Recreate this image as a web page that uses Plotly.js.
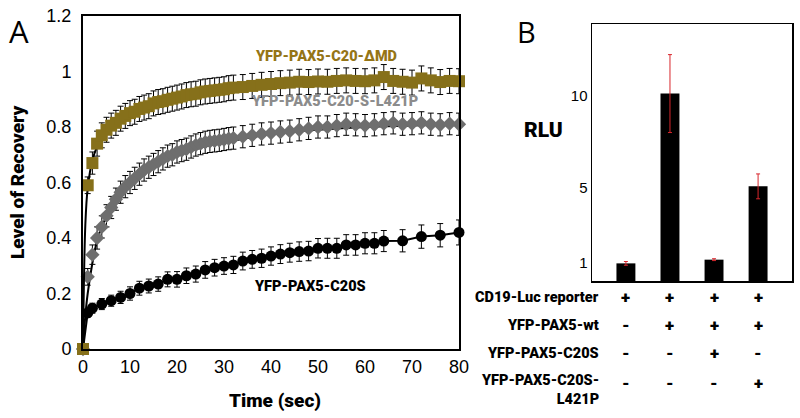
<!DOCTYPE html>
<html>
<head>
<meta charset="utf-8">
<script src="https://cdn.plot.ly/plotly-3.0.1.min.js"></script>
<style>html,body{margin:0;padding:0;background:#fff;}#chart{width:800px;height:418px;}</style>
</head>
<body>
<div id="chart"></div>
<script>
// ---------- Panel A data (FRAP recovery) ----------
const tFine = [0,1,2,3,4,5,6,7,8,9,10,11,12,13,14,15,16,17,18,19,20,21,22,23,24,25,26,27,28,29,30,31,32,
               34,36,38,40,42,44,46,48,50,52,54,56,58,60,62,64,66,68,70,72,74,76,78,80];
const dmdValues = [0,0.59,0.67,0.74,0.77,0.79,0.805,0.815,0.83,0.84,0.85,0.855,0.865,0.87,0.875,0.885,0.89,0.893,0.898,0.902,0.906,0.91,0.915,0.918,0.92,0.925,0.928,0.93,0.932,0.934,0.936,0.94,0.942,
               0.944,0.948,0.952,0.955,0.958,0.96,0.963,0.962,0.964,0.963,0.966,0.968,0.966,0.965,0.968,0.98,0.966,0.963,0.96,0.975,0.968,0.962,0.966,0.965];
const dmdErr = [0,0.03,0.04,0.045,0.045,0.045,0.045,0.045,0.045,0.045,0.045,0.045,0.045,0.045,0.045,0.045,0.045,0.045,0.045,0.045,0.045,0.045,0.045,0.045,0.045,0.045,0.045,0.045,0.045,0.045,0.045,0.045,0.045,
               0.045,0.045,0.045,0.045,0.045,0.045,0.045,0.045,0.045,0.045,0.045,0.045,0.045,0.045,0.045,0.045,0.045,0.045,0.045,0.045,0.045,0.045,0.045,0.045];
const l421pValues = [0,0.26,0.34,0.40,0.44,0.48,0.51,0.54,0.565,0.585,0.60,0.615,0.63,0.645,0.655,0.665,0.675,0.685,0.695,0.70,0.71,0.715,0.72,0.728,0.735,0.74,0.745,0.748,0.75,0.752,0.755,0.758,0.76,
               0.765,0.77,0.775,0.778,0.782,0.785,0.79,0.795,0.80,0.80,0.805,0.81,0.808,0.805,0.808,0.812,0.815,0.81,0.812,0.815,0.81,0.808,0.812,0.81];
const l421pErr = [0,0.03,0.035,0.04,0.04,0.04,0.04,0.04,0.04,0.04,0.04,0.04,0.04,0.04,0.04,0.04,0.04,0.04,0.04,0.04,0.04,0.04,0.04,0.04,0.04,0.04,0.04,0.04,0.04,0.04,0.04,0.04,0.04,
               0.04,0.04,0.04,0.04,0.04,0.04,0.04,0.04,0.04,0.04,0.04,0.04,0.04,0.04,0.04,0.04,0.04,0.04,0.04,0.04,0.04,0.04,0.04,0.04];
const l421pFitT = [0,0.5,1,2,3,4,6,8,10,12,15,20,25,30,35,40,50,60,70,80];
const l421pFitV = [0,0.12,0.2,0.31,0.39,0.44,0.51,0.555,0.59,0.62,0.655,0.695,0.725,0.745,0.76,0.775,0.79,0.80,0.805,0.81];
const dmdFitT = [0,0.5,1,2,3,4,6,8,10,15,20,25,30,40,50,60,80];
const dmdFitV = [0,0.45,0.58,0.68,0.73,0.765,0.8,0.825,0.845,0.88,0.905,0.92,0.935,0.95,0.96,0.965,0.97];
const tC20S = [0,1,2,4,6,8,10,12,14,16,18,20,22,24,26,28,30,32,34,36,38,40,42,44,46,48,50,52,54,56,58,60,62,64,68,72,76,80];
const c20sValues = [0,0.13,0.147,0.162,0.174,0.186,0.2,0.219,0.227,0.234,0.251,0.251,0.264,0.27,0.285,0.293,0.299,0.303,0.317,0.323,0.327,0.335,0.342,0.347,0.351,0.353,0.363,0.363,0.363,0.375,0.375,0.381,0.381,0.389,0.39,0.405,0.41,0.42];
const c20sErr = [0,0.015,0.018,0.02,0.02,0.022,0.024,0.025,0.025,0.026,0.027,0.028,0.028,0.029,0.03,0.03,0.03,0.031,0.032,0.032,0.033,0.033,0.034,0.034,0.035,0.035,0.035,0.036,0.036,0.037,0.037,0.038,0.038,0.038,0.04,0.042,0.042,0.045];
const xTicksA = [0,10,20,30,40,50,60,70,80];
const yTicksA = [0,0.2,0.4,0.6,0.8,1,1.2];
const yTickTextA = ['0','0.2','0.4','0.6','0.8','1','1.2'];

// ---------- Panel B data (luciferase) ----------
const conditions = [0,1,2,3];
const rluValues = [0.95,10.1,1.15,5.1];
const rluErr = [0.1,2.1,0.05,0.67];
const yTicksB = [1,5,10];
const rowLabels = ['CD19-Luc reporter','YFP-PAX5-wt','YFP-PAX5-C20S','YFP-PAX5-C20S-<br>L421P'];
const rowMarks = [['+','+','+','+'],['-','+','+','+'],['-','-','+','-'],['-','-','-','+']];

const GOLD = '#86701a';
const GOLDTXT = '#957516';
const GRAY = '#6e6e6e';
const GRAYTXT = '#8c8c8c';
const NARROW = 'Roboto, "Liberation Sans Narrow", sans-serif';
const ARIAL = '"Liberation Sans", Arial, sans-serif';

function eb(arr){return {type:'data', array:arr, visible:true, color:'#000', thickness:1, width:3};}

const traces = [
  {x:l421pFitT, y:l421pFitV, mode:'lines', line:{color:'#000', width:2, shape:'spline'}, xaxis:'x', yaxis:'y', hoverinfo:'skip'},
  {x:tC20S, y:c20sValues, mode:'lines+markers', line:{color:'#000', width:2},
   marker:{symbol:'circle', size:11, color:'#000'}, error_y:eb(c20sErr), cliponaxis:false, xaxis:'x', yaxis:'y'},
  {x:tFine, y:l421pValues, mode:'markers',
   marker:{symbol:'diamond', size:11, color:GRAY}, error_y:eb(l421pErr), cliponaxis:false, xaxis:'x', yaxis:'y'},
  {x:dmdFitT, y:dmdFitV, mode:'lines', line:{color:'#000', width:2, shape:'spline'}, xaxis:'x', yaxis:'y', hoverinfo:'skip'},
  {x:tFine, y:dmdValues, mode:'markers',
   marker:{symbol:'square', size:12, color:GOLD}, error_y:eb(dmdErr), cliponaxis:false, xaxis:'x', yaxis:'y'},
  {x:conditions, y:rluValues, type:'bar', width:0.43, marker:{color:'#000'},
   error_y:{type:'data', array:rluErr, visible:true, color:'#d8262c', thickness:1, width:2}, xaxis:'x2', yaxis:'y2'}
];

function heavy(size, color){return {family:NARROW, size:size, color:color, weight:900};}
function ann(text, px, py, font, extra){
  const a = {text:text, x:px/800, y:1-py/418, xref:'paper', yref:'paper', xanchor:'center', yanchor:'middle', showarrow:false, font:font};
  return Object.assign(a, extra || {});
}
const annotations = [
  ann('A', 19, 31, {family:'"Open Sans", sans-serif', size:31, color:'#000'}),
  ann('B', 526, 32, {family:'"Open Sans", sans-serif', size:29, color:'#000'}),
  ann('Level of Recovery', 17, 183, heavy(19, '#000'), {textangle:-90}),
  ann('Time (sec)', 275, 400, heavy(19, '#000')),
  ann('YFP-PAX5-C20-ΔMD', 326, 56, heavy(14.5, GOLDTXT)),
  ann('YFP-PAX5-C20-S-L421P', 334, 101, heavy(14.5, GRAYTXT)),
  ann('YFP-PAX5-C20S', 310, 286, heavy(14.5, '#000')),
  ann('RLU', 543, 130, heavy(21, '#000'))
];
const rowY = [297, 325, 353, 383];
rowLabels.forEach(function(lbl, i){
  const multi = lbl.indexOf('<br>') >= 0;
  annotations.push(ann(lbl, 601, multi ? 390 : rowY[i], heavy(14.5, '#000'), {xanchor:'right', align:'right'}));
  rowMarks[i].forEach(function(m, j){
    annotations.push({text:m, x:conditions[j], y:1-rowY[i]/418, xref:'x2', yref:'paper',
      xanchor:'center', yanchor:'middle', showarrow:false, font:heavy(17, '#000')});
  });
});

const layout = {
  width:800, height:418, margin:{l:0,r:0,t:0,b:0}, showlegend:false,
  paper_bgcolor:'#fff', plot_bgcolor:'#fff',
  xaxis:{domain:[83/800, 459/800], range:[0,80], tickvals:xTicksA, showgrid:false, zeroline:false,
    showline:true, mirror:true, linecolor:'#000', linewidth:2, ticks:'', anchor:'y',
    tickfont:{family:ARIAL, size:18, color:'#000'}},
  yaxis:{domain:[1-349/418, 1-16/418], range:[0,1.2], tickvals:yTicksA, ticktext:yTickTextA, showgrid:false, zeroline:false,
    showline:true, mirror:true, linecolor:'#000', linewidth:2, ticks:'', anchor:'x', ticklabelstandoff:6,
    tickfont:{family:ARIAL, size:18, color:'#000'}},
  xaxis2:{domain:[592/800, 792/800], range:[-0.77,3.77], showticklabels:false, showgrid:false, zeroline:false,
    showline:true, mirror:true, linecolor:'#000', linewidth:1.5, ticks:'', anchor:'y2'},
  yaxis2:{domain:[1-281/418, 1-24/418], range:[0,13.85], tickvals:yTicksB, showgrid:false, zeroline:false,
    showline:true, mirror:true, linecolor:'#000', linewidth:1.5, ticks:'', anchor:'x2',
    tickfont:{family:ARIAL, size:15, color:'#000'}},
  annotations:annotations
};

Plotly.newPlot('chart', traces, layout, {displayModeBar:false, staticPlot:true});
</script>
</body>
</html>
